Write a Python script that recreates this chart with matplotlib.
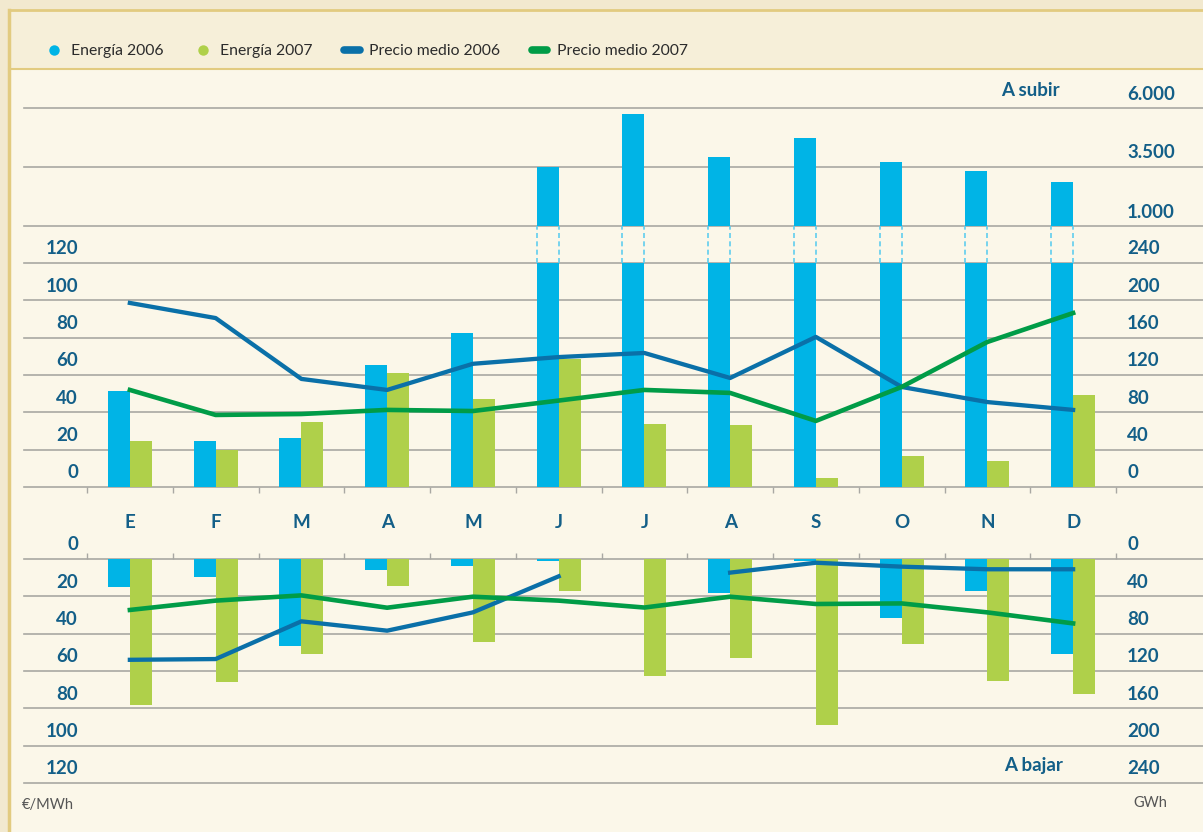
import numpy as np
import matplotlib
matplotlib.use("Agg")
import matplotlib.pyplot as plt
from matplotlib.patches import Rectangle
from matplotlib.lines import Line2D

# ---------------------------------
# Data
# ---------------------------------

meses = ["E", "F", "M", "A", "M", "J", "J", "A", "S", "O", "N", "D"]

# A subir (GWh / €/MWh)
energia_subir_2006 = [103, 49, 52, 131, 165, 3500, 5750, 3920, 4730, 3710, 3330, 2860]
energia_subir_2007 = [49, 40, 70, 122, 94, 137, 67, 66, 10, 33, 28, 99]
precio_subir_2006 = [98.6, 90.5, 57.9, 52, 66, 69.6, 71.8, 58.4, 80.4, 53.6, 45.5, 41.3]
precio_subir_2007 = [52, 38.6, 39.1, 41.3, 40.7, 46.3, 52, 50.4, 35.4, 53.6, 77.7, 93.2]

# A bajar (GWh / €/MWh)
energia_bajar_2006 = [30, 19, 93, 12, 7.5, 2, 0, 36, 2, 63, 34, 102]
energia_bajar_2007 = [156, 132, 102, 29, 89, 34, 125, 106, 178, 91, 131, 145]
precio_bajar_2006 = [54, 53.6, 33.4, 38.4, 28.6, 9.3, np.nan, 7.3, 2, 4.1, 5.5, 5.5]
precio_bajar_2007 = [27.3, 22.3, 19.5, 26.1, 20.2, 22.3, 26, 20.2, 24.1, 23.8, 28.6, 34.5]

gwh_subir_ticks = [0, 40, 80, 120, 160, 200, 240, 1000, 3500, 6000]
gwh_subir_labels = ["0", "40", "80", "120", "160", "200", "240", "1.000", "3.500", "6.000"]
gwh_bajar_ticks = [0, 40, 80, 120, 160, 200, 240]
precio_ticks = [0, 20, 40, 60, 80, 100, 120]

# ---------------------------------
# Style
# ---------------------------------

AZUL_BAR = "#00B4E6"
VERDE_BAR = "#AFD04A"
AZUL_LIN = "#0A70A8"
VERDE_LIN = "#009C47"
TEAL = "#135F88"
GRIS = "#A9A8A3"
ORO = "#E2CB80"

plt.rcParams["font.family"] = ["Lato", "DejaVu Sans"]

W, H = 1203, 832
fig = plt.figure(figsize=(W / 100, H / 100), dpi=100)
fig.patch.set_facecolor("#F2E9CF")

def fx(px):
    return px / W

def fy(py):
    return 1 - py / H

# background panels
fig.patches.append(Rectangle((fx(9), 0), 1, fy(10), transform=fig.transFigure,
                             facecolor="#F6EFD9", edgecolor="none", zorder=-10))
fig.patches.append(Rectangle((fx(9), 0), 1, fy(69), transform=fig.transFigure,
                             facecolor="#FBF7E9", edgecolor="none", zorder=-9))
fig.add_artist(Line2D([fx(9), 1], [fy(10), fy(10)], color=ORO, lw=2, zorder=-5))
fig.add_artist(Line2D([fx(9), 1], [fy(69), fy(69)], color=ORO, lw=1.5, zorder=-5))
fig.add_artist(Line2D([fx(9), fx(9)], [0, fy(10)], color=ORO, lw=2.5, zorder=-5))

# ---------------------------------
# Broken scale for the upper energy axis
# ---------------------------------

px_unit = 224 / 240
gap = 37 / px_unit
top = 118 / px_unit

def fwd(v):
    v = np.asarray(v, float)
    return np.where(v <= 240, v,
                    np.where(v <= 1000, 240 + (v - 240) * gap / 760,
                             240 + gap + (v - 1000) * top / 5000))

def inv(u):
    u = np.asarray(u, float)
    return np.where(u <= 240, u,
                    np.where(u <= 240 + gap, 240 + (u - 240) * 760 / gap,
                             1000 + (u - 240 - gap) * 5000 / top))

x = np.arange(len(meses))
w = 22 / 85.75
xl = (-0.5 - 63 / 85.75, len(meses) - 0.5 + 87 / 85.75)

ax_left = fx(24)
ax_w = 1 - ax_left

# ---------------------------------
# Upper panel
# ---------------------------------

ax = fig.add_axes([ax_left, fy(487), ax_w, (487 - 108) / H])
ax.set_yscale("function", functions=(fwd, inv))
ax.set_ylim(0, 6000)
ax.set_xlim(*xl)
ax.set_facecolor("none")
for s in ax.spines.values():
    s.set_visible(False)
for v in gwh_subir_ticks:
    ax.axhline(v, color=GRIS, lw=1.2, zorder=0.5, clip_on=False)

e06 = np.array(energia_subir_2006, float)
ax.bar(x - w / 2, np.minimum(e06, 240), w, color=AZUL_BAR, zorder=2)
big = e06 > 240
ax.bar(x[big] - w / 2, e06[big] - 1000, w, bottom=1000, color=AZUL_BAR, zorder=2)
ax.vlines(np.r_[x[big] - w, x[big]], 240, 1000, colors="#5FCDEE", lw=1.2,
          linestyles=(0, (3, 2)), zorder=2)
ax.bar(x + w / 2, energia_subir_2007, w, color=VERDE_BAR, zorder=2)

ax.set_xticks(np.arange(len(meses) + 1) - 0.5)
ax.tick_params(axis="x", direction="out", length=4, width=1, color=GRIS,
               labelbottom=False)
ax.set_yticks([])
ax.yaxis.set_minor_locator(matplotlib.ticker.NullLocator())

ax2 = ax.twinx()
ax2.set_ylim(0, (487 - 108) / px_unit / 2)
ax2.set_yticks([])
for s in ax2.spines.values():
    s.set_visible(False)
ax2.plot(x, precio_subir_2006, color=AZUL_LIN, lw=3.1, zorder=3)
ax2.plot(x, precio_subir_2007, color=VERDE_LIN, lw=3.3, zorder=3)

lab = dict(color=TEAL, fontsize=13.5, fontweight="bold", va="center")
for v, t in zip(gwh_subir_ticks, gwh_subir_labels):
    ax.annotate(t, xy=((1127 - 24) / (W - 24), v), xycoords=ax.get_yaxis_transform(),
                xytext=(0, 14), textcoords="offset pixels", ha="left", **lab)
for v in precio_ticks:
    ax2.annotate(str(v), xy=((78 - 24) / (W - 24), v), xycoords=ax2.get_yaxis_transform(),
                 xytext=(0, 14), textcoords="offset pixels", ha="right", **lab)
ax.annotate("A subir", xy=((1060 - 24) / (W - 24), 6000), xycoords=ax.get_yaxis_transform(),
            xytext=(0, 18), textcoords="offset pixels", ha="right", **lab)
for i, m in enumerate(meses):
    ax.annotate(m, xy=(i, 0), xytext=(0, -36), textcoords="offset pixels",
                ha="center", **lab)

# ---------------------------------
# Lower panel
# ---------------------------------

bx = fig.add_axes([ax_left, fy(783), ax_w, 224 / H])
bx.set_ylim(240, 0)
bx.set_xlim(*xl)
bx.set_facecolor("none")
for s in bx.spines.values():
    s.set_visible(False)
for v in gwh_bajar_ticks:
    bx.axhline(v, color=GRIS, lw=1.2, zorder=0.5, clip_on=False)
bx.bar(x - w / 2, energia_bajar_2006, w, color=AZUL_BAR, zorder=2)
bx.bar(x + w / 2, energia_bajar_2007, w, color=VERDE_BAR, zorder=2)
bx.xaxis.tick_top()
bx.set_xticks(np.arange(len(meses) + 1) - 0.5)
bx.tick_params(axis="x", direction="out", length=4, width=1, color=GRIS,
               labeltop=False, labelbottom=False)
bx.set_yticks([])

bx2 = bx.twinx()
bx2.set_ylim(120, 0)
bx2.set_yticks([])
for s in bx2.spines.values():
    s.set_visible(False)
bx2.plot(x, precio_bajar_2006, color=AZUL_LIN, lw=3.1, zorder=3)
bx2.plot(x, precio_bajar_2007, color=VERDE_LIN, lw=3.3, zorder=3)

for v in gwh_bajar_ticks:
    bx.annotate(str(v), xy=((1127 - 24) / (W - 24), v), xycoords=bx.get_yaxis_transform(),
                xytext=(0, 14), textcoords="offset pixels", ha="left", **lab)
for v in precio_ticks:
    bx2.annotate(str(v), xy=((78 - 24) / (W - 24), v), xycoords=bx2.get_yaxis_transform(),
                 xytext=(0, 14), textcoords="offset pixels", ha="right", **lab)
bx.annotate("A bajar", xy=((1063 - 24) / (W - 24), 240), xycoords=bx.get_yaxis_transform(),
            xytext=(0, 17), textcoords="offset pixels", ha="right", **lab)

# units
fig.text(fx(22), fy(805), "€/MWh", color="#555555", fontsize=10.5, va="center", ha="left")
fig.text(fx(1133), fy(803), "GWh", color="#555555", fontsize=10.5, va="center", ha="left")

# ---------------------------------
# Legend
# ---------------------------------

handles = [
    Line2D([], [], ls="none", marker="o", ms=7.5, mfc=AZUL_BAR, mec="none"),
    Line2D([], [], ls="none", marker="o", ms=7.5, mfc=VERDE_BAR, mec="none"),
    Line2D([], [], color=AZUL_LIN, lw=5.5, solid_capstyle="round"),
    Line2D([], [], color=VERDE_LIN, lw=5.5, solid_capstyle="round"),
]
labels = ["Energía 2006", "Energía 2007", "Precio medio 2006", "Precio medio 2007"]
fig.legend(handles, labels, loc="center left", bbox_to_anchor=(fx(46), fy(51)),
           ncol=4, frameon=False, fontsize=11.3, handlelength=1.0,
           handletextpad=0.6, columnspacing=2.0, borderpad=0, borderaxespad=0,
           labelcolor="#2B2B2B")

fig.savefig("out.png", dpi=100, facecolor=fig.get_facecolor())
